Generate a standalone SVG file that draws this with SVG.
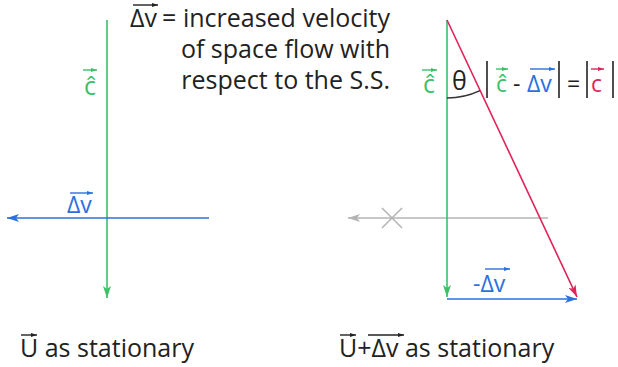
<svg xmlns="http://www.w3.org/2000/svg" width="618" height="367" viewBox="0 0 618 367">
<defs>
<style>
.t{font-family:"Open Sans","Liberation Sans",sans-serif;fill:#222}
.g{fill:#3cc068}.b{fill:#2b70dd}.r{fill:#e0245a}
.big{font-size:25px}
.mid{font-size:23px}
.ln{fill:none;stroke-width:1.6}
.va{fill:none;stroke-width:1.4}
</style>
<marker id="ag" viewBox="0 0 12 8" refX="12" refY="4" markerWidth="12" markerHeight="8" markerUnits="userSpaceOnUse" orient="auto"><path d="M0,0 L12,4 L0,8 L3,4 z" fill="#3cc068"/></marker>
<marker id="ab" viewBox="0 0 12 8" refX="12" refY="4" markerWidth="12" markerHeight="8" markerUnits="userSpaceOnUse" orient="auto"><path d="M0,0 L12,4 L0,8 L3,4 z" fill="#2b70dd"/></marker>
<marker id="ar" viewBox="0 0 12 8" refX="12" refY="4" markerWidth="12" markerHeight="8" markerUnits="userSpaceOnUse" orient="auto"><path d="M0,0 L12,4 L0,8 L3,4 z" fill="#e0245a"/></marker>
<marker id="ay" viewBox="0 0 12 8" refX="12" refY="4" markerWidth="12" markerHeight="8" markerUnits="userSpaceOnUse" orient="auto"><path d="M0,0 L12,4 L0,8 L3,4 z" fill="#b4b4b4"/></marker>
<marker id="sk" viewBox="0 0 6 4" refX="6" refY="2" markerWidth="6" markerHeight="4" markerUnits="userSpaceOnUse" orient="auto"><path d="M0,0 L6,2 L0,4 z" fill="#222"/></marker>
<marker id="sg" viewBox="0 0 6 4" refX="6" refY="2" markerWidth="6" markerHeight="4" markerUnits="userSpaceOnUse" orient="auto"><path d="M0,0 L6,2 L0,4 z" fill="#3cc068"/></marker>
<marker id="sb" viewBox="0 0 6 4" refX="6" refY="2" markerWidth="6" markerHeight="4" markerUnits="userSpaceOnUse" orient="auto"><path d="M0,0 L6,2 L0,4 z" fill="#2b70dd"/></marker>
<marker id="sr" viewBox="0 0 6 4" refX="6" refY="2" markerWidth="6" markerHeight="4" markerUnits="userSpaceOnUse" orient="auto"><path d="M0,0 L6,2 L0,4 z" fill="#e0245a"/></marker>
</defs>
<rect width="618" height="367" fill="#fff"/>

<g id="connectors">
  <line class="ln" x1="107" y1="20" x2="107" y2="298" stroke="#3cc068" marker-end="url(#ag)"/>
  <line class="ln" x1="209" y1="218" x2="7" y2="218" stroke="#2b70dd" marker-end="url(#ab)"/>
  <line class="ln" x1="548" y1="218" x2="348" y2="218" stroke="#b4b4b4" marker-end="url(#ay)"/>
  <line class="ln" x1="447" y1="20" x2="447" y2="297" stroke="#3cc068" marker-end="url(#ag)"/>
  <line class="ln" x1="447" y1="299" x2="577" y2="299" stroke="#2b70dd" marker-end="url(#ab)"/>
  <line class="ln" x1="447" y1="20" x2="577" y2="297" stroke="#e0245a" marker-end="url(#ar)"/>
  <path class="ln" d="M447,98 A78,78 0 0 0 480,90.6" stroke="#333" stroke-width="1.3"/>
</g>

<g id="cross">
  <line x1="382" y1="208" x2="402" y2="228" stroke="#b4b4b4" stroke-width="1.6"/>
  <line x1="402" y1="208" x2="382" y2="228" stroke="#b4b4b4" stroke-width="1.6"/>
</g>

<g id="definition">
  <text class="t big" x="130" y="27">Δv</text>
  <line class="va" x1="133" y1="5" x2="158" y2="5" stroke="#222" marker-end="url(#sk)"/>
  <text class="t big" x="390" y="27" text-anchor="end">= increased velocity</text>
  <text class="t big" x="390" y="58" text-anchor="end">of space flow with</text>
  <text class="t big" x="390" y="89" text-anchor="end">respect to the S.S.</text>
</g>

<g id="c-left">
  <text class="t big g" x="84" y="95">ĉ</text>
  <line class="va" x1="83" y1="70" x2="97" y2="70" stroke="#3cc068" marker-end="url(#sg)"/>
</g>

<g id="dv-left">
  <text class="t mid b" x="67" y="213">Δv</text>
  <line class="va" x1="70" y1="193" x2="93" y2="193" stroke="#2b70dd" marker-end="url(#sb)"/>
</g>

<g id="c-right">
  <text class="t big g" x="423" y="93">ĉ</text>
  <line class="va" x1="422" y1="70" x2="437" y2="70" stroke="#3cc068" marker-end="url(#sg)"/>
  <text class="t big" x="452" y="90">θ</text>
</g>

<g id="formula">
  <line x1="487" y1="61" x2="487" y2="98" stroke="#222" stroke-width="1.6"/>
  <text class="t mid g" x="496" y="92">ĉ</text>
  <line class="va" x1="496" y1="69" x2="508" y2="69" stroke="#3cc068" marker-end="url(#sg)"/>
  <text class="t mid" x="513" y="92">-</text>
  <text class="t mid b" x="527" y="92">Δv</text>
  <line class="va" x1="530" y1="69" x2="555" y2="69" stroke="#2b70dd" marker-end="url(#sb)"/>
  <line x1="559" y1="61" x2="559" y2="98" stroke="#222" stroke-width="1.6"/>
  <text class="t mid" x="567" y="92">=</text>
  <line x1="587" y1="61" x2="587" y2="98" stroke="#222" stroke-width="1.6"/>
  <text class="t mid r" x="591" y="92">c</text>
  <line class="va" x1="591" y1="69" x2="604" y2="69" stroke="#e0245a" marker-end="url(#sr)"/>
  <line x1="613" y1="61" x2="613" y2="98" stroke="#222" stroke-width="1.6"/>
</g>

<g id="neg-dv">
  <text class="t mid b" x="473" y="292">-Δv</text>
  <line class="va" x1="485" y1="269" x2="510" y2="269" stroke="#2b70dd" marker-end="url(#sb)"/>
</g>

<g id="label-left">
  <text class="t big" x="20" y="357">U as stationary</text>
  <line class="va" x1="21" y1="335" x2="37" y2="335" stroke="#222" marker-end="url(#sk)"/>
</g>

<g id="label-right">
  <text class="t big" x="339" y="357">U+Δv as stationary</text>
  <line class="va" x1="340" y1="335" x2="356" y2="335" stroke="#222" marker-end="url(#sk)"/>
  <line class="va" x1="368" y1="335" x2="404" y2="335" stroke="#222" marker-end="url(#sk)"/>
</g>
</svg>
